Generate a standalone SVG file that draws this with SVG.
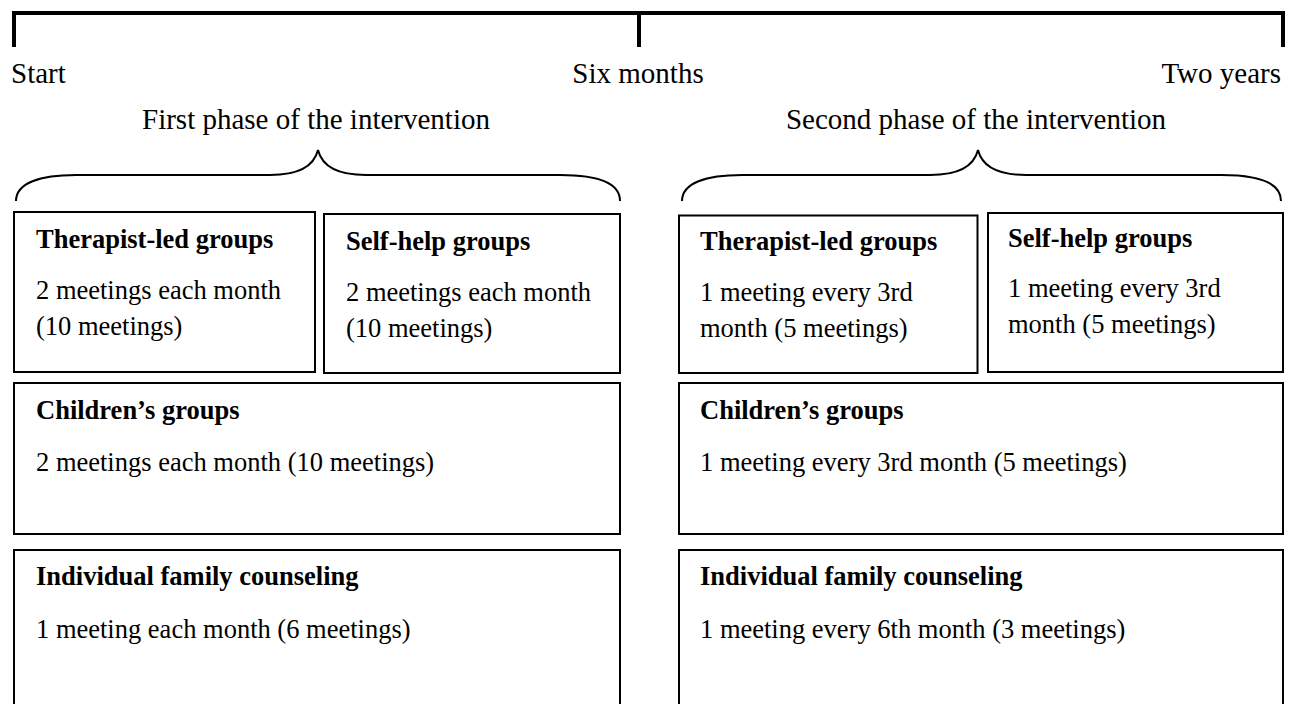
<svg xmlns="http://www.w3.org/2000/svg" width="1312" height="704" viewBox="0 0 1312 704">
<style>
.t{font-family:"Liberation Serif","Times New Roman",serif;fill:#000}
.lab{font-size:29px}
.h{font-size:26.5px;font-weight:bold}
.b{font-size:26.5px}
.box{fill:#fff;stroke:#000;stroke-width:2}
.tl{fill:none;stroke:#000;stroke-width:4}
.br{fill:none;stroke:#000;stroke-width:2}
</style>
<rect width="1312" height="704" fill="#fff"/>
<g id="connectors">
<path class="tl" d="M12,13 H1285 M14,11 V47 M639,13 V47 M1283,11 V47"/>
<path class="br" d="M16,201 C16,183 40,175 76,175 L270,175 C300,175 314,166 318,150 C322,166 336,175 366,175 L560,175 C600,175 620,183 620,201"/>
<path class="br" d="M682,201 C682,183 706,175 742,175 L930,175 C960,175 974,166 978,150 C982,166 996,175 1026,175 L1221,175 C1261,175 1281,183 1281,201"/>
</g>
<g id="timeline-labels">
<text class="t lab" x="11" y="83">Start</text>
<text class="t lab" x="638" y="83" text-anchor="middle">Six months</text>
<text class="t lab" x="1281" y="83" text-anchor="end">Two years</text>
<text class="t lab" x="316" y="129" text-anchor="middle">First phase of the intervention</text>
<text class="t lab" x="976" y="129" text-anchor="middle">Second phase of the intervention</text>
</g>
<g id="p1-therapist">
<rect class="box" x="14" y="212" width="301" height="160"/>
<text class="t h" x="36" y="248">Therapist-led groups</text>
<text class="t b" x="36" y="299">2 meetings each month</text>
<text class="t b" x="36" y="335">(10 meetings)</text>
</g>
<g id="p1-selfhelp">
<rect class="box" x="324" y="214" width="296" height="159"/>
<text class="t h" x="346" y="250">Self-help groups</text>
<text class="t b" x="346" y="301">2 meetings each month</text>
<text class="t b" x="346" y="337">(10 meetings)</text>
</g>
<g id="p1-children">
<rect class="box" x="14" y="383" width="606" height="151"/>
<text class="t h" x="36" y="419">Children’s groups</text>
<text class="t b" x="36" y="471">2 meetings each month (10 meetings)</text>
</g>
<g id="p1-family">
<rect class="box" x="14" y="550" width="606" height="170"/>
<text class="t h" x="36" y="585">Individual family counseling</text>
<text class="t b" x="36" y="638">1 meeting each month (6 meetings)</text>
</g>
<g id="p2-therapist">
<rect class="box" x="679" y="215.5" width="298.5" height="157.5"/>
<text class="t h" x="700" y="250">Therapist-led groups</text>
<text class="t b" x="700" y="301">1 meeting every 3rd</text>
<text class="t b" x="700" y="337">month (5 meetings)</text>
</g>
<g id="p2-selfhelp">
<rect class="box" x="988" y="213" width="295" height="159"/>
<text class="t h" x="1008" y="247">Self-help groups</text>
<text class="t b" x="1008" y="297">1 meeting every 3rd</text>
<text class="t b" x="1008" y="333">month (5 meetings)</text>
</g>
<g id="p2-children">
<rect class="box" x="679" y="383" width="604" height="151"/>
<text class="t h" x="700" y="419">Children’s groups</text>
<text class="t b" x="700" y="471">1 meeting every 3rd month (5 meetings)</text>
</g>
<g id="p2-family">
<rect class="box" x="679" y="550" width="604" height="170"/>
<text class="t h" x="700" y="585">Individual family counseling</text>
<text class="t b" x="700" y="638">1 meeting every 6th month (3 meetings)</text>
</g>
</svg>
